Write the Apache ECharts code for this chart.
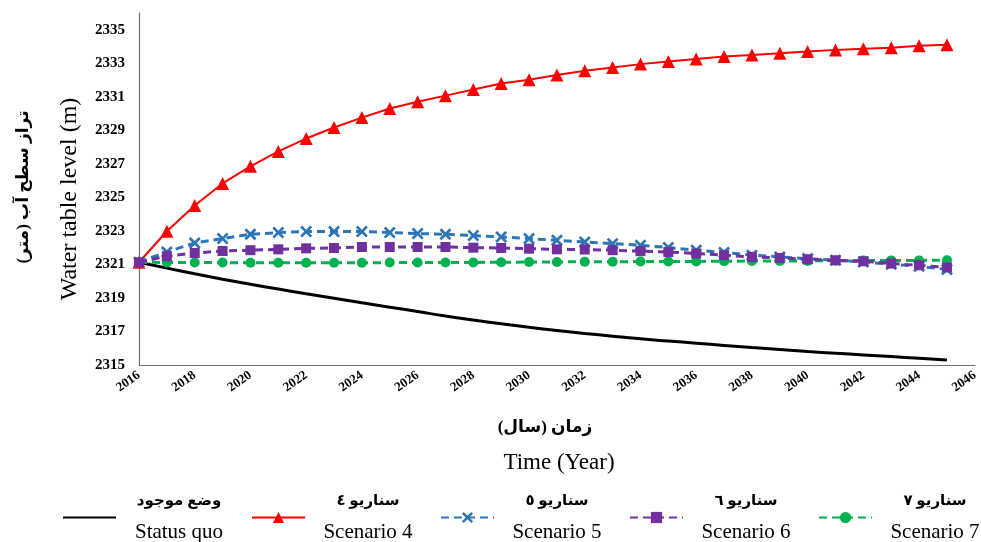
<!DOCTYPE html>
<html>
<head>
<meta charset="utf-8">
<script src="https://cdn.jsdelivr.net/npm/echarts@6/dist/echarts.min.js"></script>
<style>
  html, body { margin: 0; padding: 0; background: #ffffff; }
  #chart { width: 981px; height: 542px; }
</style>
</head>
<body>
<div id="chart"></div>
<script>
// Simulated water table level per year, 2016-2045
const years = [2016, 2017, 2018, 2019, 2020, 2021, 2022, 2023, 2024, 2025,
               2026, 2027, 2028, 2029, 2030, 2031, 2032, 2033, 2034, 2035,
               2036, 2037, 2038, 2039, 2040, 2041, 2042, 2043, 2044, 2045];

const statusQuo = [2321.13, 2320.78, 2320.44, 2320.12, 2319.82, 2319.53, 2319.25, 2318.98, 2318.71, 2318.45,
                   2318.19, 2317.92, 2317.68, 2317.46, 2317.25, 2317.06, 2316.88, 2316.72, 2316.56, 2316.43,
                   2316.30, 2316.17, 2316.04, 2315.92, 2315.80, 2315.70, 2315.60, 2315.50, 2315.40, 2315.30];

const scenario4 = [2321.13, 2322.98, 2324.52, 2325.83, 2326.85, 2327.74, 2328.51, 2329.17, 2329.76, 2330.30,
                   2330.71, 2331.07, 2331.43, 2331.79, 2332.02, 2332.30, 2332.55, 2332.75, 2332.95, 2333.10,
                   2333.25, 2333.40, 2333.50, 2333.60, 2333.70, 2333.80, 2333.87, 2333.93, 2334.05, 2334.11];

const scenario5 = [2321.13, 2321.74, 2322.28, 2322.54, 2322.80, 2322.90, 2322.96, 2322.96, 2322.96, 2322.90,
                   2322.84, 2322.80, 2322.72, 2322.64, 2322.54, 2322.44, 2322.34, 2322.24, 2322.14, 2322.01,
                   2321.85, 2321.71, 2321.55, 2321.45, 2321.35, 2321.25, 2321.15, 2321.01, 2320.89, 2320.70];

const scenario6 = [2321.13, 2321.49, 2321.68, 2321.80, 2321.85, 2321.90, 2321.96, 2321.98, 2322.04, 2322.04,
                   2322.04, 2322.04, 2322.00, 2321.98, 2321.94, 2321.90, 2321.89, 2321.85, 2321.79, 2321.74,
                   2321.65, 2321.55, 2321.45, 2321.39, 2321.31, 2321.25, 2321.19, 2321.05, 2320.95, 2320.82];

const scenario7 = [2321.13, 2321.12, 2321.11, 2321.11, 2321.10, 2321.10, 2321.10, 2321.10, 2321.10, 2321.11,
                   2321.11, 2321.12, 2321.12, 2321.13, 2321.14, 2321.15, 2321.16, 2321.16, 2321.17, 2321.18,
                   2321.18, 2321.19, 2321.20, 2321.21, 2321.21, 2321.22, 2321.23, 2321.24, 2321.24, 2321.25];

// Legend captions: Persian line above, English line below
const namesFa = ['وضع موجود', 'سناریو ٤', 'سناریو ٥', 'سناریو ٦', 'سناریو ٧'];
const namesEn = ['Status quo', 'Scenario 4', 'Scenario 5', 'Scenario 6', 'Scenario 7'];

// Axis ranges and titles
const xMin = 2016, xMax = 2046, xStep = 2;
const yMin = 2315, yMax = 2336, yStep = 2;
const yTitleFa = 'تراز سطح آب (متر)';
const yTitleEn = 'Water table level (m)';
const xTitleFa = 'زمان (سال)';
const xTitleEn = 'Time (Year)';

const SERIF = '"Liberation Serif", "Times New Roman", "DejaVu Serif", serif';
const FA = '"Liberation Serif", "DejaVu Sans", sans-serif';

const pair = arr => years.map((y, i) => [y, arr[i]]);
// Bold "x" marker
const crossPath = 'path://M0,1.6 L1.6,0 L5,3.4 L8.4,0 L10,1.6 L6.6,5 L10,8.4 L8.4,10 L5,6.6 L1.6,10 L0,8.4 L3.4,5 Z';

const legendNames = namesEn.map((en, i) => namesFa[i] + '|' + en);

const chart = echarts.init(document.getElementById('chart'), null, { renderer: 'canvas' });

chart.setOption({
  backgroundColor: '#ffffff',
  animation: false,
  grid: { left: 139, right: 2, top: 13, bottom: 177, containLabel: false },
  xAxis: {
    type: 'value',
    min: xMin, max: xMax, interval: xStep,
    axisLine: { show: true, lineStyle: { color: '#6e6e6e', width: 1.2 } },
    axisTick: { show: false },
    splitLine: { show: false },
    axisLabel: {
      rotate: 35, margin: 9,
      color: '#000', fontFamily: SERIF, fontWeight: 'bold', fontSize: 13,
      formatter: v => String(v)
    }
  },
  yAxis: {
    type: 'value',
    min: yMin, max: yMax, interval: yStep,
    axisLine: { show: true, lineStyle: { color: '#6e6e6e', width: 1.2 } },
    axisTick: { show: false },
    splitLine: { show: false },
    axisLabel: {
      showMaxLabel: false, margin: 14,
      color: '#000', fontFamily: SERIF, fontWeight: 'bold', fontSize: 15,
      formatter: v => String(v)
    }
  },
  legend: {
    orient: 'horizontal',
    left: 62, top: 494, width: 930,
    padding: 0,
    itemWidth: 53, itemHeight: 14, itemGap: 22,
    data: legendNames.map((n, i) => i === 0 ? { name: n, itemStyle: { opacity: 0 } } : { name: n }),
    formatter: name => {
      const parts = name.split('|');
      return '{fa|' + parts[0] + '}\n{en|' + parts[1] + '}';
    },
    textStyle: {
      padding: [0, 0, 0, 8],
      rich: {
        fa: { width: 100, align: 'center', fontFamily: FA, fontWeight: 'bold', fontSize: 15, lineHeight: 30, color: '#000' },
        en: { width: 100, align: 'center', fontFamily: SERIF, fontSize: 21, lineHeight: 32, color: '#000' }
      }
    }
  },
  graphic: [
    { type: 'text', x: 24, y: 187, rotation: Math.PI / 2,
      style: { text: yTitleFa, font: 'bold 17px ' + FA, fill: '#000', align: 'center', verticalAlign: 'middle' } },
    { type: 'text', x: 70, y: 199, rotation: Math.PI / 2,
      style: { text: yTitleEn, font: '24px ' + SERIF, fill: '#000', align: 'center', verticalAlign: 'middle' } },
    { type: 'text', x: 545, y: 428,
      style: { text: xTitleFa, font: 'bold 17px ' + FA, fill: '#000', align: 'center', verticalAlign: 'middle' } },
    { type: 'text', x: 559, y: 463,
      style: { text: xTitleEn, font: '23px ' + SERIF, fill: '#000', align: 'center', verticalAlign: 'middle' } }
  ],
  series: [
    {
      name: legendNames[0], type: 'line', data: pair(statusQuo),
      symbol: 'none', smooth: true, z: 2,
      lineStyle: { color: '#000000', width: 3 },
      itemStyle: { color: '#000000' }
    },
    {
      name: legendNames[1], type: 'line', data: pair(scenario4),
      symbol: 'triangle', symbolSize: 13, z: 3,
      lineStyle: { color: '#ff0000', width: 2 },
      itemStyle: { color: '#ff0000' }
    },
    {
      name: legendNames[4], type: 'line', data: pair(scenario7),
      symbol: 'circle', symbolSize: 10, z: 4,
      lineStyle: { color: '#00b050', width: 3, type: [8, 5] },
      itemStyle: { color: '#00b050' }
    },
    {
      name: legendNames[2], type: 'line', data: pair(scenario5),
      symbol: crossPath, symbolSize: 12, z: 5,
      lineStyle: { color: '#2e75b6', width: 3, type: [8, 5] },
      itemStyle: { color: '#2e75b6' }
    },
    {
      name: legendNames[3], type: 'line', data: pair(scenario6),
      symbol: 'rect', symbolSize: 10, z: 6,
      lineStyle: { color: '#7030a0', width: 3, type: [8, 5] },
      itemStyle: { color: '#7030a0' }
    }
  ]
});
</script>
</body>
</html>
